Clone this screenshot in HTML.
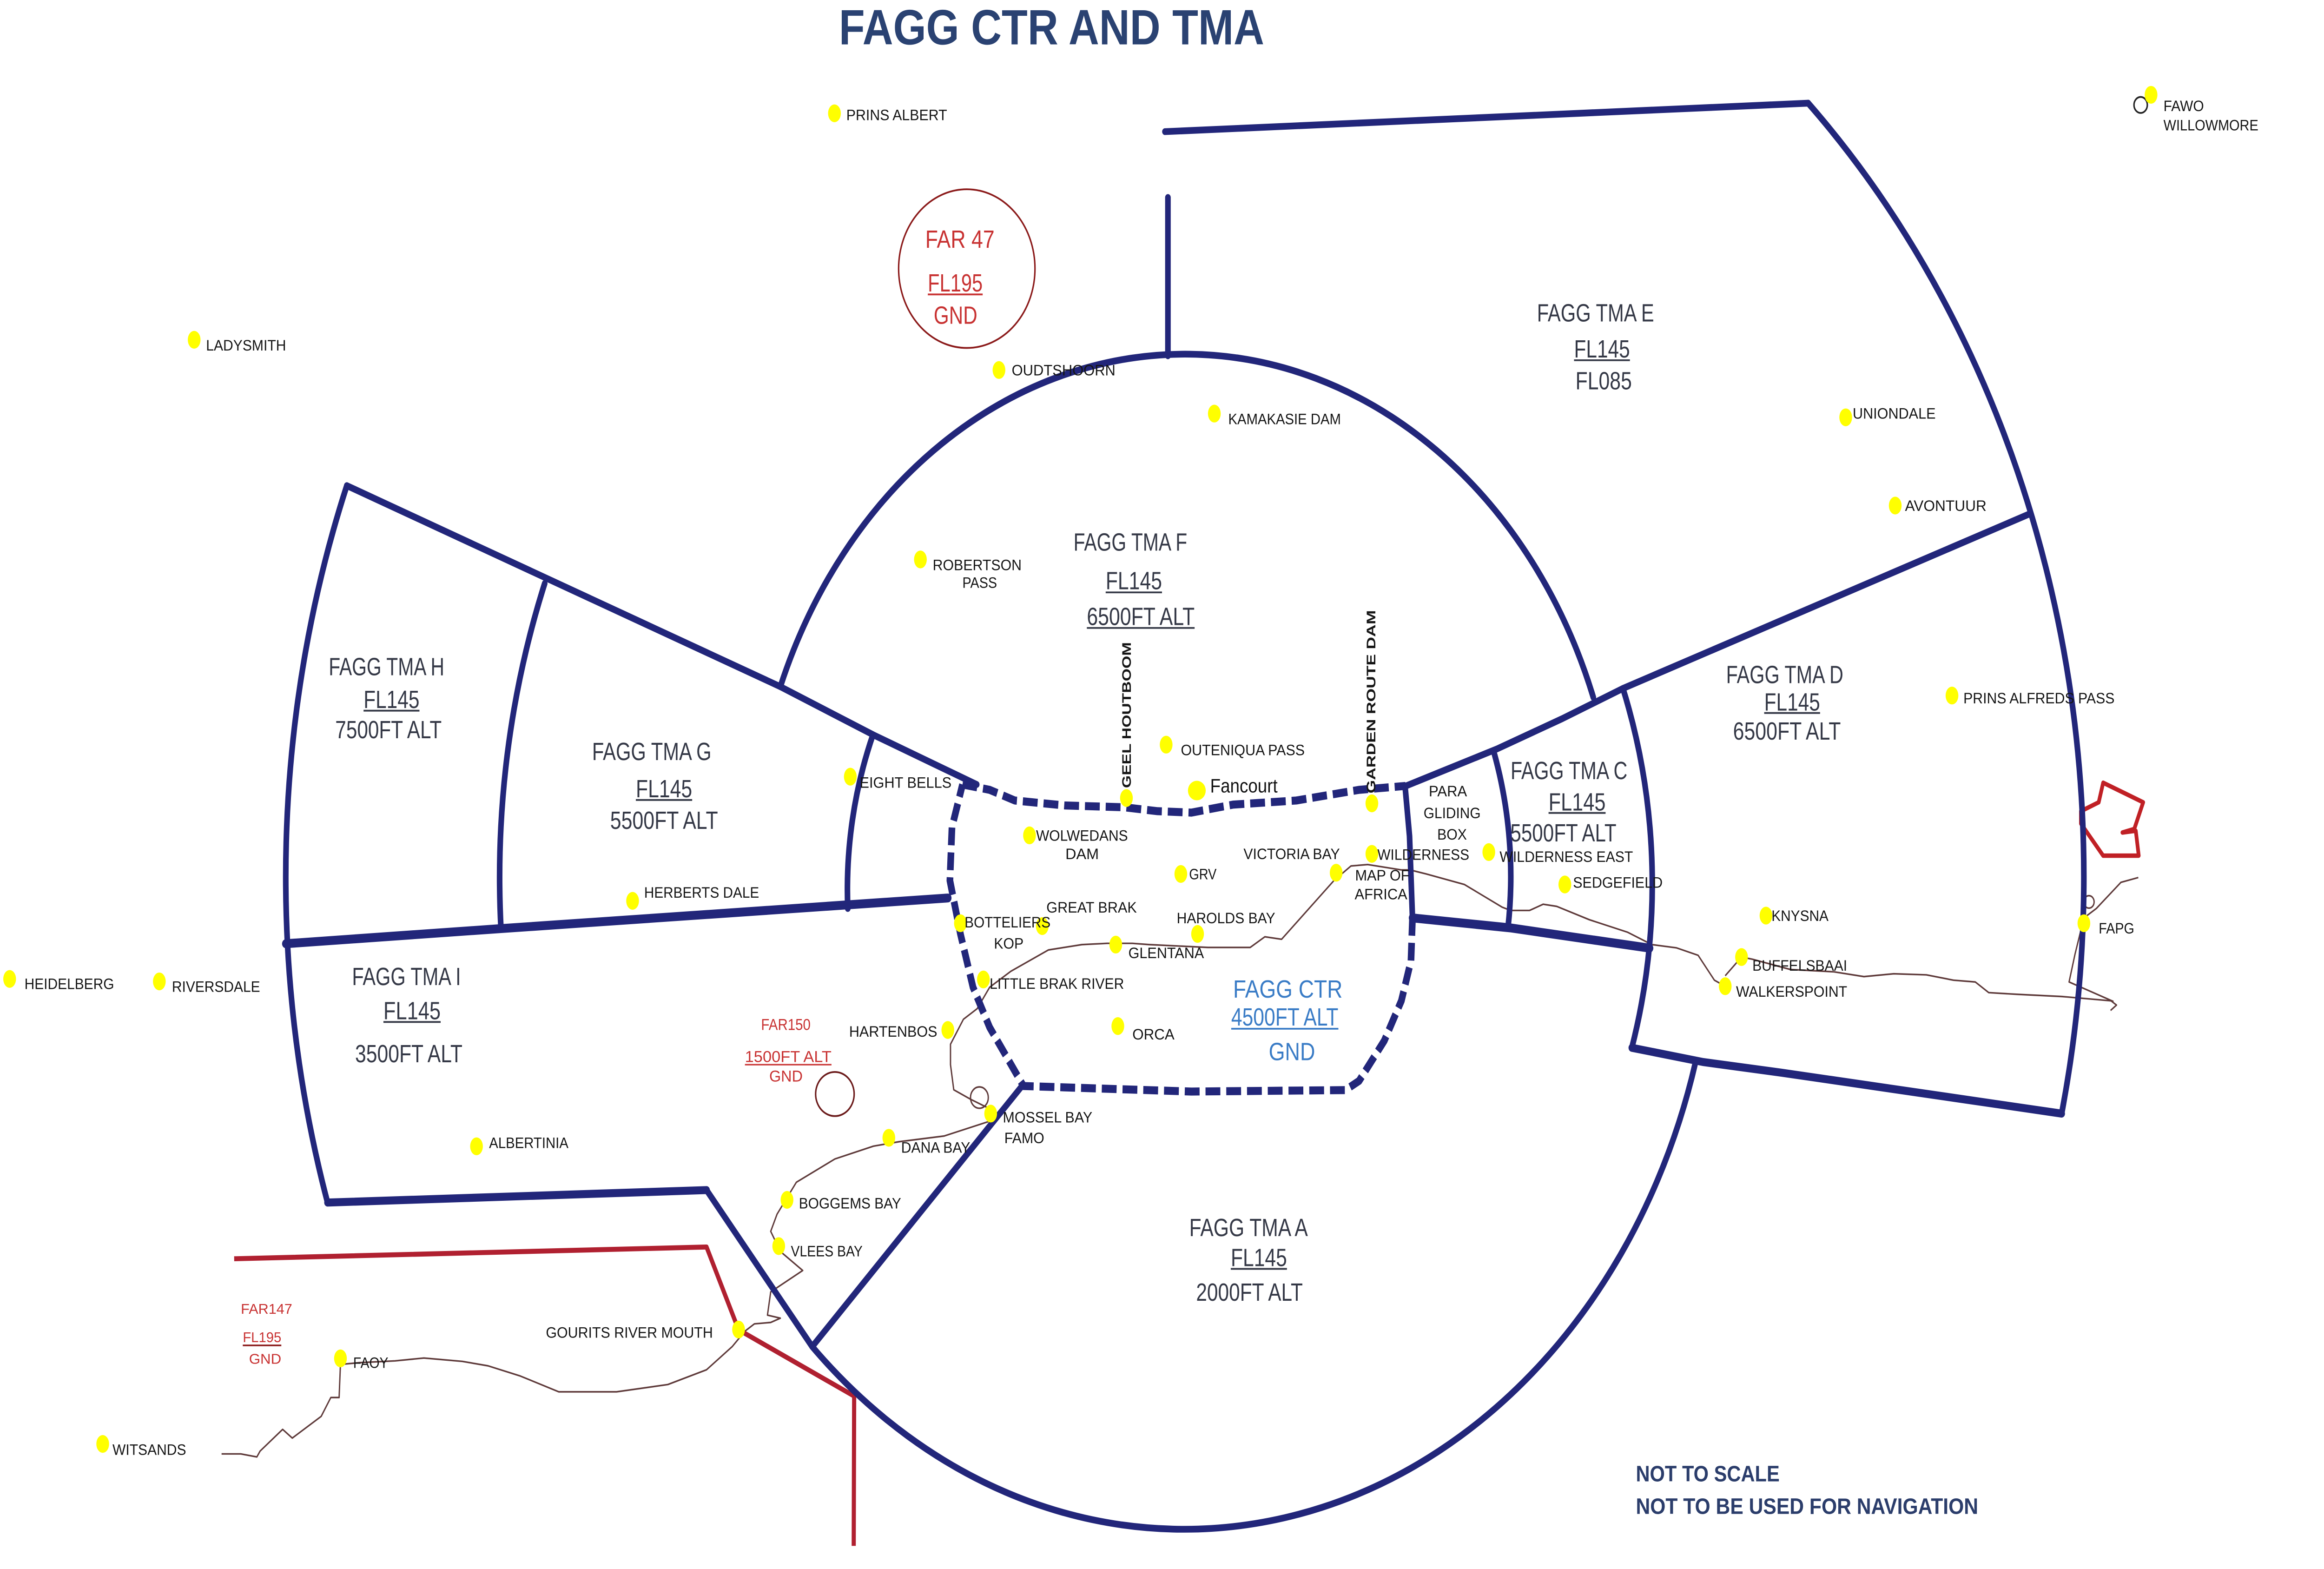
<!DOCTYPE html>
<html>
<head>
<meta charset="utf-8">
<style>
html,body{margin:0;padding:0;background:#fff;width:100%;height:100%;overflow:hidden;}
svg{display:block;width:100vw;height:100vh;}
text{font-family:"Liberation Sans",Arial,sans-serif;}
.s{font-size:8.5px;fill:#151515;}
.t{font-size:14px;fill:#343846;}
.r{fill:#c83232;}
.b{fill:#3a7cc6;font-size:14px;}
</style>
</head>
<body>
<svg width="100%" height="100%" viewBox="0 0 1568 882" preserveAspectRatio="none" xmlns="http://www.w3.org/2000/svg">
<rect x="0" y="0" width="1568" height="882" fill="#ffffff"/>

<!-- Title -->
<text x="566" y="25" font-size="28" font-weight="bold" fill="#2a4272" textLength="287" lengthAdjust="spacingAndGlyphs">FAGG CTR AND TMA</text>

<!-- Coastline -->
<g fill="none" stroke="#5e3a3a" stroke-width="0.9" stroke-linejoin="round">
<polyline points="149.5,817.3 162.5,817.3 173.3,819 175.5,815.7 190.7,803.5 197.2,808.4 216.7,796.2 223.2,785.6 228.8,785.6 229.7,767 242.7,766 266.5,765 286,763.4 312,765.3 329.3,767.8 351,773.5 377,782.4 416,782.4 450.6,778.3 476.7,770 494,757 502.6,748.3 509,744.2 520,743.4 526.5,741 517.8,739.3 520,726.2 541.6,714.2 526.5,703.5 520,692.2 524.3,682.5 537.3,664.6 563.3,651.5 589.3,644.3 606.6,641.8 637,638.6 667.3,630.4 669.5,624"/>
<polyline points="669.5,624 655,618 643.5,612.6 641.3,598.5 641.3,587 650,573 659.3,567 667.7,555 682,546 707.4,534 730,531 747,530.3 764,530.3 775.4,531 815,532.6 843.5,532.6 853.4,526.6 864.7,528 900,495 911.5,486.8 922.8,486 945.4,489 951.3,489 962.3,491.3 988,497.2 1013.6,510 1019.2,511.8 1032,511.8 1041.2,508.3 1050.3,509.5 1072.3,517 1098,524 1114.5,531 1131,532.8 1145.7,537 1156.7,551 1164,554.4"/>
<polyline points="1164,548.5 1175,538 1182.3,539.2 1208,545 1237.3,546.3 1257.6,549 1277.7,547.4 1299.7,548 1318,551 1332.7,552 1341.8,558 1362,559 1391.4,560.2 1424.3,562.6 1428,565 1424,568"/>
<polyline points="1442.7,493.3 1431,496 1414.4,510.7 1406,516 1400,536.4 1396,552 1426,563"/>
<circle cx="1409.4" cy="507" r="3.5"/>
<circle cx="660.8" cy="617" r="6"/>
</g>

<!-- Red restricted area lines -->
<g fill="none" stroke="#b02030" stroke-linejoin="round">
<polyline stroke-width="2.8" points="158,707.6 476.7,701 498.3,747.5 576.3,784.8 576,869"/>
<path stroke-width="2.5" stroke="#c02025" d="M1404,456 L1416,451 L1419,440 L1446,451 L1440,466 L1432,468 L1441,467 L1443,481 L1419,481 L1404,463 Z"/>
</g>
<ellipse cx="652.3" cy="151" rx="46" ry="44.6" fill="none" stroke="#8b1a1a" stroke-width="1"/>
<ellipse cx="563.3" cy="615" rx="13" ry="12.4" fill="none" stroke="#6b1a1a" stroke-width="1"/>
<circle cx="1444.3" cy="59" r="4.5" fill="none" stroke="#222" stroke-width="1"/>

<!-- Airspace boundaries -->
<g fill="none" stroke="#22267a" stroke-width="3.8" stroke-linejoin="round" stroke-linecap="round">
<path d="M786,74 L1220,58"/>
<path d="M1220,58 A601,601 0 0 1 1391,626"/>
<path d="M788,111 L788,200"/>
<path d="M526.5,386 A293,293 0 0 1 1075,392"/>
<polyline points="1369,289 1095,387 1054,404 1010,421 948,442"/>
<path d="M1095,387 A315,315 0 0 1 1101,589"/>
<polyline stroke-width="4.5" points="1101,589 1149,597 1202,603 1391,626"/>
<path d="M1008,423 A220,220 0 0 1 1017.5,521"/>
<polyline stroke-width="5" points="953,516 1019,521.6 1113,533"/>
<polyline points="948,442 951,470 953,516"/>
<path d="M1144,597 A358,358 0 0 1 548,757 L476.7,669"/>
<path d="M690,610 L548,757"/>
<polyline stroke-width="4.5" points="221,676 476.7,669"/>
<path d="M234,273 A608,608 0 0 0 221,676"/>
<polyline points="234,273 526.5,386 589,413 659,441"/>
<path d="M367.5,328 A464,464 0 0 0 338,522"/>
<path d="M589,413 A228,228 0 0 0 572,510.7"/>
<polyline stroke-width="5" points="192.8,530.5 338,522 639.5,504.8"/>
</g>
<g fill="none" stroke="#22267a" stroke-width="4.5" stroke-dasharray="10 4" stroke-linejoin="round">
<polyline points="649.4,441 667.7,444 684.7,450 718.8,452.8 758.4,453.8 781,456 803.8,456.8 832,452.3 874.6,450 917,444 948.3,441.8"/>
<polyline points="953,516 952,540 945.5,562.6 934,585 917,607.6 907.7,612.8 803.8,613.6 690.5,610.5 667.7,577.5 656.5,555 648,525 640.9,495 642.3,465 649.4,441"/>
</g>

<!-- Yellow points -->
<g fill="#ffff00">
<ellipse cx="563" cy="63.7" rx="4.3" ry="5"/>
<ellipse cx="131" cy="191" rx="4.3" ry="5"/>
<ellipse cx="674" cy="208" rx="4.3" ry="5"/>
<ellipse cx="819.3" cy="232.5" rx="4.3" ry="5"/>
<ellipse cx="621" cy="314.5" rx="4.3" ry="5"/>
<ellipse cx="786.8" cy="418.6" rx="4.3" ry="5"/>
<ellipse cx="807.5" cy="444.4" rx="6" ry="5.5"/>
<ellipse cx="573.7" cy="436.6" rx="4.3" ry="5"/>
<ellipse cx="694.6" cy="469.6" rx="4.3" ry="5"/>
<ellipse cx="796.7" cy="491.3" rx="4.3" ry="5"/>
<ellipse cx="901.5" cy="490.6" rx="4.3" ry="5"/>
<ellipse cx="925.6" cy="480" rx="4.3" ry="5"/>
<ellipse cx="703.2" cy="520.6" rx="4.3" ry="5"/>
<ellipse cx="648" cy="519" rx="4.3" ry="5"/>
<ellipse cx="808" cy="525" rx="4.3" ry="5"/>
<ellipse cx="752.8" cy="531" rx="4.3" ry="5"/>
<ellipse cx="663.5" cy="550.6" rx="4.3" ry="5"/>
<ellipse cx="639.5" cy="579" rx="4.3" ry="5"/>
<ellipse cx="754.2" cy="576.8" rx="4.3" ry="5"/>
<ellipse cx="668.4" cy="626" rx="4.3" ry="5"/>
<ellipse cx="599.7" cy="639.6" rx="4.3" ry="5"/>
<ellipse cx="531" cy="674.5" rx="4.3" ry="5"/>
<ellipse cx="525.4" cy="700.5" rx="4.3" ry="5"/>
<ellipse cx="498.3" cy="747.4" rx="4.3" ry="5"/>
<ellipse cx="229.7" cy="763.6" rx="4.3" ry="5"/>
<ellipse cx="69.3" cy="811.7" rx="4.3" ry="5"/>
<ellipse cx="6.5" cy="550.3" rx="4.3" ry="5"/>
<ellipse cx="107.5" cy="551.7" rx="4.3" ry="5"/>
<ellipse cx="426.8" cy="506.4" rx="4.3" ry="5"/>
<ellipse cx="321.5" cy="644.4" rx="4.3" ry="5"/>
<ellipse cx="1245.3" cy="234.6" rx="4.3" ry="5"/>
<ellipse cx="1278.7" cy="284.2" rx="4.3" ry="5"/>
<ellipse cx="1451.3" cy="53.3" rx="4.3" ry="5"/>
<ellipse cx="1317" cy="391" rx="4.3" ry="5"/>
<ellipse cx="1004.5" cy="479" rx="4.3" ry="5"/>
<ellipse cx="1055.8" cy="497.2" rx="4.3" ry="5"/>
<ellipse cx="1191.5" cy="514.7" rx="4.3" ry="5"/>
<ellipse cx="1175" cy="538" rx="4.3" ry="5"/>
<ellipse cx="1164" cy="554.4" rx="4.3" ry="5"/>
<ellipse cx="1406" cy="519" rx="4.3" ry="5"/>
<ellipse cx="760" cy="448.6" rx="4.3" ry="5"/>
<ellipse cx="925.6" cy="451.6" rx="4.3" ry="5"/>
</g>

<!-- Small point labels -->
<g class="s">
<text class="s" x="571" y="67.5" textLength="68" lengthAdjust="spacingAndGlyphs">PRINS ALBERT</text>
<text class="s" x="139" y="197" textLength="54" lengthAdjust="spacingAndGlyphs">LADYSMITH</text>
<text class="s" x="682.6" y="211" textLength="70" lengthAdjust="spacingAndGlyphs">OUDTSHOORN</text>
<text class="s" x="828.7" y="238.5" textLength="76" lengthAdjust="spacingAndGlyphs">KAMAKASIE DAM</text>
<text class="s" x="629.3" y="320.5" textLength="60" lengthAdjust="spacingAndGlyphs">ROBERTSON</text>
<text class="s" x="649.3" y="330.5" textLength="23.4" lengthAdjust="spacingAndGlyphs">PASS</text>
<text class="s" x="796.7" y="424.6" textLength="83.6" lengthAdjust="spacingAndGlyphs">OUTENIQUA PASS</text>
<text class="s" x="580" y="442.8" textLength="62" lengthAdjust="spacingAndGlyphs">EIGHT BELLS</text>
<text class="s" x="699" y="472.6" textLength="62" lengthAdjust="spacingAndGlyphs">WOLWEDANS</text>
<text class="s" x="718.8" y="483" textLength="22.6" lengthAdjust="spacingAndGlyphs">DAM</text>
<text class="s" x="802.3" y="494.3" textLength="18.5" lengthAdjust="spacingAndGlyphs">GRV</text>
<text class="s" x="839" y="483" textLength="65" lengthAdjust="spacingAndGlyphs">VICTORIA BAY</text>
<text class="s" x="929.3" y="483.4" textLength="62" lengthAdjust="spacingAndGlyphs">WILDERNESS</text>
<text class="s" x="914.3" y="495" textLength="36.7" lengthAdjust="spacingAndGlyphs">MAP OF</text>
<text class="s" x="914" y="505.6" textLength="35.5" lengthAdjust="spacingAndGlyphs">AFRICA</text>
<text class="s" x="706" y="513" textLength="61" lengthAdjust="spacingAndGlyphs">GREAT BRAK</text>
<text class="s" x="650.8" y="521.3" textLength="58" lengthAdjust="spacingAndGlyphs">BOTTELIERS</text>
<text class="s" x="670.6" y="533.3" textLength="20" lengthAdjust="spacingAndGlyphs">KOP</text>
<text class="s" x="793.9" y="519" textLength="66.5" lengthAdjust="spacingAndGlyphs">HAROLDS BAY</text>
<text class="s" x="761.3" y="538.6" textLength="51" lengthAdjust="spacingAndGlyphs">GLENTANA</text>
<text class="s" x="667.7" y="555.8" textLength="90.7" lengthAdjust="spacingAndGlyphs">LITTLE BRAK RIVER</text>
<text class="s" x="572.9" y="582.8" textLength="59.5" lengthAdjust="spacingAndGlyphs">HARTENBOS</text>
<text class="s" x="764" y="584.3" textLength="28.4" lengthAdjust="spacingAndGlyphs">ORCA</text>
<text class="s" x="676.6" y="631" textLength="60.4" lengthAdjust="spacingAndGlyphs">MOSSEL BAY</text>
<text class="s" x="677.6" y="642.6" textLength="27" lengthAdjust="spacingAndGlyphs">FAMO</text>
<text class="s" x="608" y="648" textLength="46.6" lengthAdjust="spacingAndGlyphs">DANA BAY</text>
<text class="s" x="539" y="679.3" textLength="69" lengthAdjust="spacingAndGlyphs">BOGGEMS BAY</text>
<text class="s" x="533.6" y="706.2" textLength="48.4" lengthAdjust="spacingAndGlyphs">VLEES BAY</text>
<text class="s" x="368.3" y="752" textLength="112.7" lengthAdjust="spacingAndGlyphs">GOURITS RIVER MOUTH</text>
<text class="s" x="238.3" y="769" textLength="23.7" lengthAdjust="spacingAndGlyphs">FAOY</text>
<text class="s" x="75.9" y="817.8" textLength="49.7" lengthAdjust="spacingAndGlyphs">WITSANDS</text>
<text class="s" x="16.5" y="556" textLength="60.5" lengthAdjust="spacingAndGlyphs">HEIDELBERG</text>
<text class="s" x="116" y="557.5" textLength="59.5" lengthAdjust="spacingAndGlyphs">RIVERSDALE</text>
<text class="s" x="434.6" y="504.6" textLength="77.6" lengthAdjust="spacingAndGlyphs">HERBERTS DALE</text>
<text class="s" x="330" y="645.4" textLength="53.5" lengthAdjust="spacingAndGlyphs">ALBERTINIA</text>
<text class="s" x="1250" y="235.3" textLength="56" lengthAdjust="spacingAndGlyphs">UNIONDALE</text>
<text class="s" x="1285.3" y="287.2" textLength="55" lengthAdjust="spacingAndGlyphs">AVONTUUR</text>
<text class="s" x="1459.7" y="62.5" textLength="27.3" lengthAdjust="spacingAndGlyphs">FAWO</text>
<text class="s" x="1459.7" y="73.3" textLength="64" lengthAdjust="spacingAndGlyphs">WILLOWMORE</text>
<text class="s" x="1324.7" y="395.4" textLength="102" lengthAdjust="spacingAndGlyphs">PRINS ALFREDS PASS</text>
<text class="s" x="964" y="447.7" textLength="25.8" lengthAdjust="spacingAndGlyphs">PARA</text>
<text class="s" x="960.5" y="460" textLength="38.5" lengthAdjust="spacingAndGlyphs">GLIDING</text>
<text class="s" x="969.7" y="472" textLength="20" lengthAdjust="spacingAndGlyphs">BOX</text>
<text class="s" x="1011.8" y="484.5" textLength="90" lengthAdjust="spacingAndGlyphs">WILDERNESS EAST</text>
<text class="s" x="1061.3" y="499" textLength="60.5" lengthAdjust="spacingAndGlyphs">SEDGEFIELD</text>
<text class="s" x="1195.2" y="517.7" textLength="38.5" lengthAdjust="spacingAndGlyphs">KNYSNA</text>
<text class="s" x="1182.3" y="545.7" textLength="64" lengthAdjust="spacingAndGlyphs">BUFFELSBAAI</text>
<text class="s" x="1171.3" y="560.3" textLength="75" lengthAdjust="spacingAndGlyphs">WALKERSPOINT</text>
<text class="s" x="1416" y="524.7" textLength="24" lengthAdjust="spacingAndGlyphs">FAPG</text>
<text class="s" font-weight="bold" transform="translate(763,443) rotate(-90)" x="0" y="0" textLength="82" lengthAdjust="spacingAndGlyphs">GEEL HOUTBOOM</text>
<text class="s" font-weight="bold" transform="translate(928,446) rotate(-90)" x="0" y="0" textLength="103" lengthAdjust="spacingAndGlyphs">GARDEN ROUTE DAM</text>
</g>
<text x="816.5" y="445.5" font-size="11" fill="#111" textLength="45.5" lengthAdjust="spacingAndGlyphs">Fancourt</text>

<!-- TMA labels -->
<g class="t">
<text class="t" x="724.3" y="309.5" textLength="76.7" lengthAdjust="spacingAndGlyphs">FAGG TMA F</text>
<text class="t" x="746" y="331.3" textLength="38" lengthAdjust="spacingAndGlyphs">FL145</text>
<text class="t" x="733.3" y="351.3" textLength="72.7" lengthAdjust="spacingAndGlyphs">6500FT ALT</text>

<text class="t" x="1037" y="180.7" textLength="79" lengthAdjust="spacingAndGlyphs">FAGG TMA E</text>
<text class="t" x="1062" y="201" textLength="37.7" lengthAdjust="spacingAndGlyphs">FL145</text>
<text class="t" x="1063" y="218.9" textLength="38" lengthAdjust="spacingAndGlyphs">FL085</text>

<text class="t" x="221.8" y="379.6" textLength="78" lengthAdjust="spacingAndGlyphs">FAGG TMA H</text>
<text class="t" x="245.3" y="398" textLength="37.7" lengthAdjust="spacingAndGlyphs">FL145</text>
<text class="t" x="226.2" y="415" textLength="71.8" lengthAdjust="spacingAndGlyphs">7500FT ALT</text>

<text class="t" x="399.5" y="427.3" textLength="80.5" lengthAdjust="spacingAndGlyphs">FAGG TMA G</text>
<text class="t" x="429" y="448.2" textLength="38" lengthAdjust="spacingAndGlyphs">FL145</text>
<text class="t" x="411.7" y="466" textLength="72.7" lengthAdjust="spacingAndGlyphs">5500FT ALT</text>

<text class="t" x="237.5" y="553.8" textLength="73.5" lengthAdjust="spacingAndGlyphs">FAGG TMA I</text>
<text class="t" x="258.7" y="573" textLength="38.6" lengthAdjust="spacingAndGlyphs">FL145</text>
<text class="t" x="239.6" y="597.2" textLength="72.4" lengthAdjust="spacingAndGlyphs">3500FT ALT</text>

<text class="t" x="1164.6" y="384" textLength="79.1" lengthAdjust="spacingAndGlyphs">FAGG TMA D</text>
<text class="t" x="1190.3" y="399.4" textLength="37.7" lengthAdjust="spacingAndGlyphs">FL145</text>
<text class="t" x="1169.3" y="415.8" textLength="72.7" lengthAdjust="spacingAndGlyphs">6500FT ALT</text>

<text class="t" x="1019.2" y="438" textLength="78.8" lengthAdjust="spacingAndGlyphs">FAGG TMA C</text>
<text class="t" x="1044.8" y="455.6" textLength="38.5" lengthAdjust="spacingAndGlyphs">FL145</text>
<text class="t" x="1019" y="473" textLength="71.6" lengthAdjust="spacingAndGlyphs">5500FT ALT</text>

<text class="t" x="802.4" y="694.9" textLength="80" lengthAdjust="spacingAndGlyphs">FAGG TMA A</text>
<text class="t" x="830.4" y="711.7" textLength="37.9" lengthAdjust="spacingAndGlyphs">FL145</text>
<text class="t" x="807" y="731.2" textLength="72" lengthAdjust="spacingAndGlyphs">2000FT ALT</text>
</g>
<g stroke="#343846" stroke-width="1">
<path d="M746,333 L784,333"/>
<path d="M733.3,353 L806,353"/>
<path d="M1062,202.5 L1099.7,202.5"/>
<path d="M245.3,399.5 L283,399.5"/>
<path d="M429,449.7 L467,449.7"/>
<path d="M258.7,574.5 L297.3,574.5"/>
<path d="M1190.3,400.8 L1228,400.8"/>
<path d="M1044.8,457 L1083.3,457"/>
<path d="M830.4,713.3 L868.3,713.3"/>
</g>

<!-- CTR label -->
<text class="b" x="832" y="560.8" textLength="73.8" lengthAdjust="spacingAndGlyphs">FAGG CTR</text>
<text class="b" x="830.7" y="576.5" textLength="72.3" lengthAdjust="spacingAndGlyphs">4500FT ALT</text>
<text class="b" x="856" y="596" textLength="31.3" lengthAdjust="spacingAndGlyphs">GND</text>
<path d="M830.7,578.3 L903,578.3" stroke="#3a7cc6" stroke-width="1"/>

<!-- Red labels -->
<text class="r" x="624.3" y="139.3" font-size="14" textLength="46.7" lengthAdjust="spacingAndGlyphs">FAR 47</text>
<text class="r" x="626" y="163.8" font-size="14" textLength="37" lengthAdjust="spacingAndGlyphs">FL195</text>
<path d="M626,165.5 L663,165.5" stroke="#c83232" stroke-width="1"/>
<text class="r" x="630" y="182" font-size="14" textLength="29.4" lengthAdjust="spacingAndGlyphs">GND</text>

<text class="r" x="513.5" y="579" font-size="9" textLength="33.4" lengthAdjust="spacingAndGlyphs">FAR150</text>
<text class="r" x="502.6" y="597" font-size="9" textLength="58.4" lengthAdjust="spacingAndGlyphs">1500FT ALT</text>
<path d="M502.6,598.5 L561,598.5" stroke="#c83232" stroke-width="0.8"/>
<text class="r" x="519" y="608" font-size="9" textLength="22.6" lengthAdjust="spacingAndGlyphs">GND</text>

<text class="r" x="162.5" y="738.5" font-size="8" textLength="34.7" lengthAdjust="spacingAndGlyphs">FAR147</text>
<text class="r" x="163.8" y="754.5" font-size="8" textLength="26" lengthAdjust="spacingAndGlyphs">FL195</text>
<path d="M163.8,756.3 L189.8,756.3" stroke="#8b1a1a" stroke-width="0.9"/>
<text class="r" x="168" y="766.6" font-size="8" textLength="21.8" lengthAdjust="spacingAndGlyphs">GND</text>

<!-- Disclaimer -->
<text x="1103.7" y="832.8" font-size="12.5" font-weight="bold" fill="#2b3d6b" textLength="97" lengthAdjust="spacingAndGlyphs">NOT TO SCALE</text>
<text x="1103.7" y="851" font-size="12.5" font-weight="bold" fill="#2b3d6b" textLength="231" lengthAdjust="spacingAndGlyphs">NOT TO BE USED FOR NAVIGATION</text>
</svg>
</body>
</html>
